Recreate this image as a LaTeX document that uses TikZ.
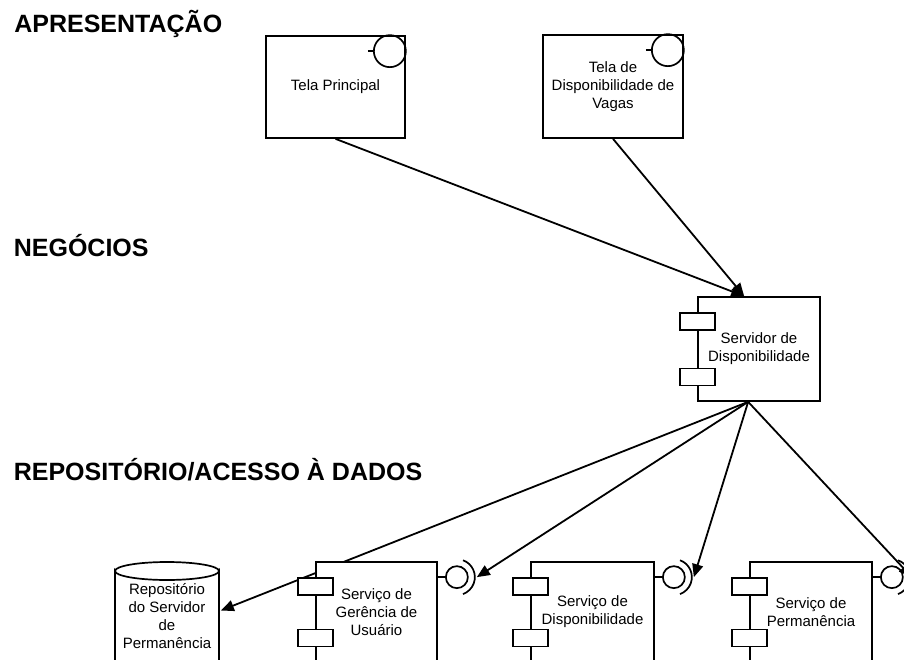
\documentclass[tikz,border=0pt]{standalone}
\usepackage{fontspec}
\setmainfont{Liberation Sans}
\usetikzlibrary{arrows.meta,calc,backgrounds}
\begin{document}
\begin{tikzpicture}[x=1pt,y=-1pt,
  line width=1.7pt,
  heading/.style={anchor=base west, inner sep=0, font=\fontsize{25}{30}\selectfont\bfseries},
  lbl/.style={align=center, font=\fontsize{15}{18}\selectfont},
  screen/.style={lbl, draw, fill=white, inner sep=0},
  comp/.style={lbl, draw, fill=white, inner sep=0, minimum width=122pt},
  port/.style={draw, fill=white},
  outline/.style={draw, line width=1.7pt},
  link/.style={-{Triangle[length=13pt,width=11pt]}, line width=1.8pt},
]
\useasboundingbox (0,0) rectangle (904,660);
\clip (0,0) rectangle (904,660);

% layer headings
\node[heading] (h1) at (13.5,33)  {APRESENTAÇÃO};
\node[heading] (h2) at (13,257) {NEGÓCIOS};
\node[heading] (h3) at (13,480) {REPOSITÓRIO/ACESSO À DADOS};

% presentation screens
\node[screen, minimum width=139pt, minimum height=102pt] (tp) at (335.5,87) {Tela Principal};
\node[screen, minimum width=140pt, minimum height=103pt] (td) at (613,86.5) {Tela de\\Disponibilidade de\\Vagas};
\foreach \n in {tp,td}{
  \draw ($(\n.north east)+(-16,16)$) circle[radius=16];
  \draw ($(\n.north east)+(-38,16)$) -- ++(6,0);
}

% components
\node[comp, minimum height=104pt] (srv) at (759,349) {Servidor de\\Disponibilidade};
\node[comp, minimum width=121pt, minimum height=100pt] (ger) at (376.5,612) {Serviço de\\Gerência de\\Usuário};
\node[comp, minimum width=123pt, minimum height=100pt] (dsp) at (592.5,612) {Serviço de\\Disponibilidade};
\node[comp, minimum height=100pt] (per) at (811,612) {Serviço de\\Permanência};

% component ports
\foreach \n in {srv,ger,dsp,per}{
  \draw[port] ($(\n.north west)+(-17,16.5)$) rectangle ++(35,17);
  \draw[port] ($(\n.south west)+(-17,-16.5)$) rectangle ++(35,-17);
}

% provided interfaces and sockets
\foreach \n in {ger,dsp,per}{
  \coordinate (\n-sock) at ($(\n.north east)+(19,16)$);
  \draw ($(\n.north east)+(0,16)$) -- ++(8,0);
  \draw (\n-sock) circle[radius=11];
  \draw ($(\n-sock)+(-70:18)$) arc[start angle=-70, end angle=70, radius=18];
}

% repository text
\node[lbl, minimum width=104pt, inner sep=0] (repo) at (167,616.5) {Repositório\\do Servidor\\de\\Permanência};

\begin{scope}[on background layer={line width=1.7pt}]
  % repository cylinder
  \path[outline, fill=white] (115,571) -- (115,700) -- (219,700) -- (219,571)
    arc[start angle=0, end angle=180, x radius=52, y radius=9] -- cycle;
  \path[outline] (115,571) arc[start angle=180, end angle=360, x radius=52, y radius=9];

  % dependencies
  \coordinate (srv-in)  at ($(srv.north west)+(47,0)$);
  \coordinate (srv-out) at ($(srv.south west)+(51,0)$);
  \draw[link] (tp.south) -- (srv-in);
  \draw[link] (td.south) -- (srv-in);
  \draw[link] (srv-out) -- ($(repo.east)+(1,-6)$);
  \draw[link] (srv-out) -- ($(ger-sock)+(20,0)$);
  \draw[link] (srv-out) -- ($(dsp-sock)+(20,0)$);
  \draw[link] (srv-out) -- ($(per-sock)+(20,0)$);
\end{scope}
\end{tikzpicture}
\end{document}
